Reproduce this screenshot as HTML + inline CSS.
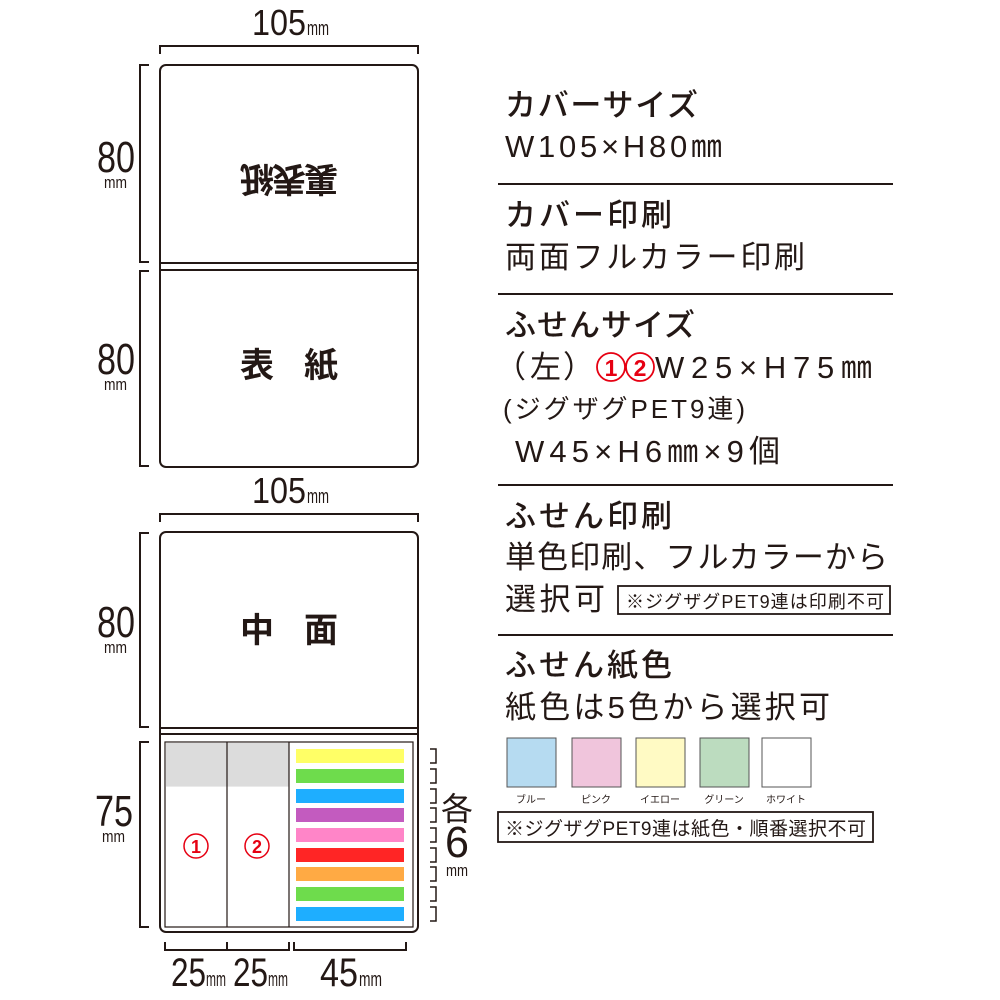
<!DOCTYPE html>
<html><head><meta charset="utf-8"><style>
html,body{margin:0;padding:0;background:#fff;}
svg{display:block;}
text{font-family:"Liberation Sans","Noto Sans CJK JP",sans-serif;fill:#231815;}
.h{font-weight:500;font-size:31px;}
.b{font-size:31px;}
</style></head><body>
<svg width="1000" height="1000" viewBox="0 0 1000 1000" xmlns="http://www.w3.org/2000/svg">
<g fill="none" stroke="#231815" stroke-width="2">
<path d="M160 54 V46 H418 V54"/>
<path d="M160 522 V514 H418 V522"/>
<rect x="160" y="65" width="258" height="402" rx="6"/>
<line x1="160" y1="263" x2="418" y2="263"/>
<line x1="160" y1="270" x2="418" y2="270"/>
<rect x="160" y="532" width="258" height="400" rx="6"/>
<line x1="160" y1="728" x2="418" y2="728"/>
<line x1="160" y1="734" x2="418" y2="734"/>
<path d="M149 65 H140 V262 H149"/>
<path d="M149 271 H140 V466 H149"/>
<path d="M149 533 H140 V727 H149"/>
<path d="M149 742 H140 V927 H149"/>
<path d="M165 942 V950 H289 V942 M227 950 V942"/>
<path d="M294 942 V950 H406 V942"/>
</g>
<rect x="165" y="742" width="248" height="185" fill="none" stroke="#231815" stroke-width="1.2"/>
<rect x="165.6" y="742.6" width="123" height="44" fill="#dcdcdc"/>
<line x1="227" y1="742" x2="227" y2="927" stroke="#231815" stroke-width="1.2"/>
<line x1="289" y1="742" x2="289" y2="927" stroke="#231815" stroke-width="1.2"/>
<g>
<rect x="296" y="749" width="108" height="14" fill="#ffff66"/>
<rect x="296" y="769" width="108" height="14" fill="#6edc4c"/>
<rect x="296" y="789" width="108" height="14" fill="#1eaeff"/>
<rect x="296" y="808" width="108" height="14" fill="#c35bbf"/>
<rect x="296" y="828" width="108" height="14" fill="#ff85c8"/>
<rect x="296" y="848" width="108" height="14" fill="#ff2525"/>
<rect x="296" y="867" width="108" height="14" fill="#ffaa44"/>
<rect x="296" y="887" width="108" height="14" fill="#6edc4c"/>
<rect x="296" y="907" width="108" height="14" fill="#1eaeff"/>
</g>
<g fill="none" stroke="#231815" stroke-width="1.5">
<path d="M430 749 H436 V763 H430"/><path d="M430 769 H436 V783 H430"/><path d="M430 789 H436 V803 H430"/>
<path d="M430 808 H436 V822 H430"/><path d="M430 828 H436 V842 H430"/><path d="M430 848 H436 V862 H430"/>
<path d="M430 867 H436 V881 H430"/><path d="M430 887 H436 V901 H430"/><path d="M430 907 H436 V921 H430"/>
</g>
<circle cx="196" cy="846" r="12" fill="none" stroke="#e60012" stroke-width="1.5"/>
<text x="196" y="853" font-size="18" font-weight="bold" text-anchor="middle" style="fill:#e60012">1</text>
<circle cx="257" cy="846" r="12" fill="none" stroke="#e60012" stroke-width="1.5"/>
<text x="257" y="853" font-size="18" font-weight="bold" text-anchor="middle" style="fill:#e60012">2</text>

<!-- dimension labels -->
<text x="252" y="35" font-size="36" textLength="54" lengthAdjust="spacingAndGlyphs">105</text>
<text x="307" y="35" font-size="20" textLength="22" lengthAdjust="spacingAndGlyphs">mm</text>
<text x="252" y="503" font-size="36" textLength="54" lengthAdjust="spacingAndGlyphs">105</text>
<text x="307" y="503" font-size="20" textLength="22" lengthAdjust="spacingAndGlyphs">mm</text>

<text x="97" y="172" font-size="44" textLength="38" lengthAdjust="spacingAndGlyphs">80</text>
<text x="104" y="188" font-size="17" textLength="23" lengthAdjust="spacingAndGlyphs">mm</text>
<text x="97" y="374" font-size="44" textLength="38" lengthAdjust="spacingAndGlyphs">80</text>
<text x="104" y="390" font-size="17" textLength="23" lengthAdjust="spacingAndGlyphs">mm</text>
<text x="97" y="637" font-size="44" textLength="38" lengthAdjust="spacingAndGlyphs">80</text>
<text x="104" y="653" font-size="17" textLength="23" lengthAdjust="spacingAndGlyphs">mm</text>
<text x="95" y="826" font-size="44" textLength="38" lengthAdjust="spacingAndGlyphs">75</text>
<text x="102" y="842" font-size="17" textLength="23" lengthAdjust="spacingAndGlyphs">mm</text>

<text x="441" y="820" font-size="32">各</text>
<text x="445" y="857" font-size="44" textLength="24" lengthAdjust="spacingAndGlyphs">6</text>
<text x="446" y="876" font-size="17" textLength="22" lengthAdjust="spacingAndGlyphs">mm</text>

<text x="171" y="986" font-size="40" textLength="35" lengthAdjust="spacingAndGlyphs">25</text>
<text x="206" y="986" font-size="20" textLength="20" lengthAdjust="spacingAndGlyphs">mm</text>
<text x="233" y="986" font-size="40" textLength="35" lengthAdjust="spacingAndGlyphs">25</text>
<text x="268" y="986" font-size="20" textLength="20" lengthAdjust="spacingAndGlyphs">mm</text>
<text x="320" y="986" font-size="40" textLength="38" lengthAdjust="spacingAndGlyphs">45</text>
<text x="359" y="986" font-size="20" textLength="23" lengthAdjust="spacingAndGlyphs">mm</text>

<text x="289" y="161" font-size="34" font-weight="bold" text-anchor="middle" transform="rotate(180 289 164)" textLength="98">裏表紙</text>
<text x="240" y="377" font-size="34" font-weight="bold">表</text>
<text x="304" y="377" font-size="34" font-weight="bold">紙</text>
<text x="240" y="642" font-size="34" font-weight="bold">中</text>
<text x="304" y="642" font-size="34" font-weight="bold">面</text>

<g stroke="#231815" stroke-width="2">
<line x1="498" y1="184" x2="893" y2="184"/>
<line x1="498" y1="294" x2="893" y2="294"/>
<line x1="498" y1="485" x2="893" y2="485"/>
<line x1="498" y1="635" x2="893" y2="635"/>
</g>
<text class="h" x="505" y="116" textLength="193">カバーサイズ</text>
<text class="b" x="505" y="157" textLength="217">W105×H80㎜</text>
<text class="h" x="505" y="226" textLength="167">カバー印刷</text>
<text class="b" x="505" y="268" textLength="300">両面フルカラー印刷</text>
<text class="h" x="505" y="336" textLength="190">ふせんサイズ</text>
<text class="b" x="495" y="378">（</text>
<text class="b" x="530" y="378">左</text>
<text class="b" x="563" y="378">）</text>
<circle cx="611" cy="367" r="14" fill="none" stroke="#e60012" stroke-width="1.8"/>
<text x="611" y="376" font-size="23" font-weight="bold" text-anchor="middle" style="fill:#e60012">1</text>
<circle cx="640" cy="367" r="14" fill="none" stroke="#e60012" stroke-width="1.8"/>
<text x="640" y="376" font-size="23" font-weight="bold" text-anchor="middle" style="fill:#e60012">2</text>
<text class="b" x="655" y="378" textLength="217">W25×H75㎜</text>
<text x="503" y="418" font-size="26" textLength="242">(ジグザグPET9連)</text>
<text class="b" x="515" y="462" textLength="265">W45×H6㎜×9個</text>
<text class="h" x="505" y="527" textLength="167">ふせん印刷</text>
<text class="b" x="505" y="568" textLength="383">単色印刷、フルカラーから</text>
<text class="b" x="505" y="610" textLength="100">選択可</text>
<rect x="618" y="586" width="272" height="28" fill="none" stroke="#231815" stroke-width="1.8"/>
<text x="626" y="608" font-size="18" textLength="258">※ジグザグPET9連は印刷不可</text>
<text class="h" x="505" y="676" textLength="167">ふせん紙色</text>
<text class="b" x="505" y="718" textLength="325">紙色は5色から選択可</text>
<g stroke="#555" stroke-width="1">
<rect x="507" y="738" width="49" height="49" fill="#b6dbf1"/>
<rect x="572" y="738" width="49" height="49" fill="#f0c5dc"/>
<rect x="636" y="738" width="49" height="49" fill="#fffac4"/>
<rect x="700" y="738" width="49" height="49" fill="#bcdcbf"/>
<rect x="762" y="738" width="49" height="49" fill="#fff"/>
</g>
<g font-size="10" text-anchor="middle">
<text x="531" y="803">ブルー</text>
<text x="596" y="803">ピンク</text>
<text x="660" y="803">イエロー</text>
<text x="724" y="803">グリーン</text>
<text x="786" y="803">ホワイト</text>
</g>
<rect x="498" y="812" width="375" height="30" fill="none" stroke="#231815" stroke-width="1.8"/>
<text x="505" y="835" font-size="19" textLength="361">※ジグザグPET9連は紙色・順番選択不可</text>
</svg>
</body></html>
